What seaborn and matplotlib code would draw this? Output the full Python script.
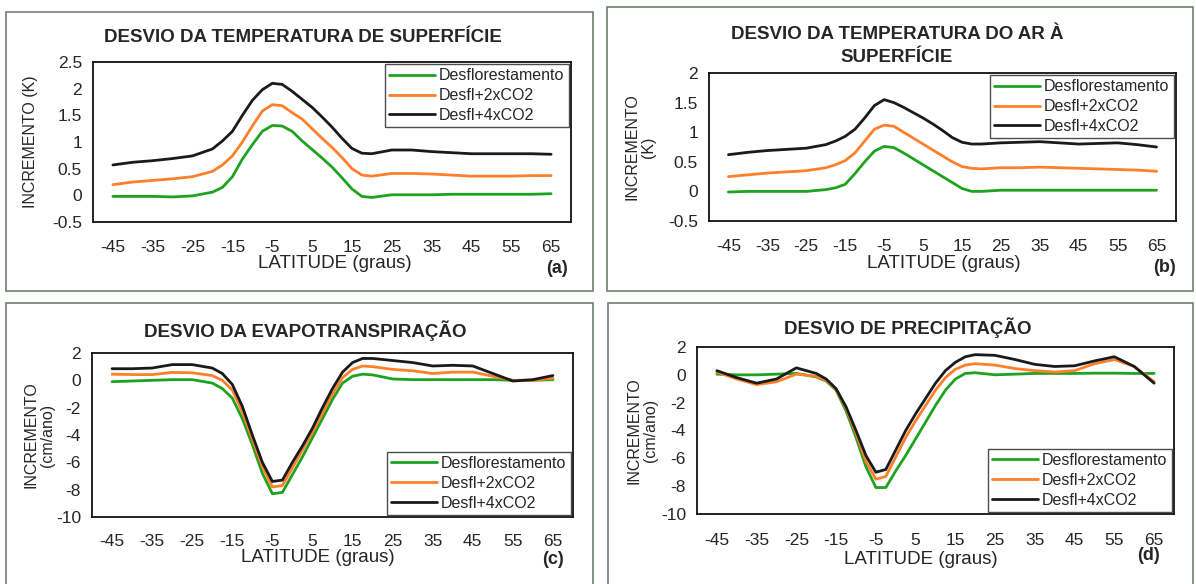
import matplotlib
matplotlib.use("Agg")
import matplotlib.pyplot as plt
from matplotlib.patches import Rectangle
import pandas as pd
import seaborn as sns

# latitudes (graus): de 5 em 5 nas pontas, de 2.5 em 2.5 na faixa tropical
lat = [-45, -40, -35, -30, -25, -20, -17.5, -15, -12.5, -10, -7.5, -5, -2.5, 0,
       2.5, 5, 7.5, 10, 12.5, 15, 17.5, 20, 25, 30, 35, 40, 45, 50, 55, 60, 65]
series = ["Desflorestamento", "Desfl+2xCO2", "Desfl+4xCO2"]
tick_labels = ["-45", "-35", "-25", "-15", "-5", "5", "15", "25", "35", "45", "55", "65"]

# (a) temperatura de superficie (K)
tsup_desf = [-0.02, -0.02, -0.02, -0.03, -0.01, 0.06, 0.15, 0.35, 0.68, 0.95, 1.2, 1.31, 1.3, 1.2,
             1.02, 0.86, 0.7, 0.53, 0.33, 0.12, -0.02, -0.04, 0.01, 0.01, 0.01, 0.02, 0.02, 0.02,
             0.02, 0.02, 0.03]
tsup_2co2 = [0.2, 0.25, 0.28, 0.31, 0.35, 0.45, 0.57, 0.74, 1.0, 1.3, 1.58, 1.7, 1.68, 1.55,
             1.43, 1.25, 1.07, 0.9, 0.71, 0.5, 0.38, 0.36, 0.41, 0.41, 0.4, 0.38, 0.36, 0.36,
             0.36, 0.37, 0.37]
tsup_4co2 = [0.57, 0.62, 0.65, 0.69, 0.74, 0.87, 1.02, 1.2, 1.5, 1.78, 1.98, 2.1, 2.08, 1.95,
             1.8, 1.65, 1.47, 1.28, 1.07, 0.88, 0.79, 0.78, 0.85, 0.85, 0.82, 0.8, 0.78, 0.78,
             0.78, 0.78, 0.77]

# (b) temperatura do ar a superficie (K)
tar_desf = [-0.01, 0.0, 0.0, 0.0, 0.0, 0.03, 0.06, 0.12, 0.3, 0.5, 0.68, 0.76, 0.74, 0.65,
            0.55, 0.45, 0.35, 0.25, 0.15, 0.05, 0.0, 0.0, 0.02, 0.02, 0.02, 0.02, 0.02, 0.02,
            0.02, 0.02, 0.02]
tar_2co2 = [0.25, 0.28, 0.31, 0.33, 0.35, 0.4, 0.45, 0.52, 0.65, 0.85, 1.05, 1.12, 1.1, 1.0,
            0.9, 0.8, 0.7, 0.6, 0.5, 0.42, 0.39, 0.38, 0.4, 0.4, 0.41, 0.4, 0.39, 0.38,
            0.37, 0.36, 0.34]
tar_4co2 = [0.62, 0.66, 0.69, 0.71, 0.73, 0.79, 0.85, 0.93, 1.05, 1.24, 1.45, 1.55, 1.5, 1.42,
            1.33, 1.24, 1.14, 1.03, 0.91, 0.83, 0.8, 0.8, 0.82, 0.83, 0.84, 0.82, 0.8, 0.81,
            0.82, 0.79, 0.75]

# (c) evapotranspiracao (cm/ano)
evt_desf = [-0.1, -0.05, 0.0, 0.05, 0.05, -0.2, -0.6, -1.3, -2.8, -4.7, -6.8, -8.3, -8.2, -6.9,
            -5.6, -4.2, -2.8, -1.4, -0.2, 0.3, 0.45, 0.4, 0.1, 0.05, 0.05, 0.05, 0.05, 0.05,
            0.0, 0.0, 0.05]
evt_2co2 = [0.45, 0.42, 0.42, 0.58, 0.55, 0.35, 0.0, -0.7, -2.3, -4.3, -6.3, -7.8, -7.7, -6.4,
            -5.1, -3.8, -2.4, -1.0, 0.2, 0.8, 1.05, 1.0, 0.8, 0.7, 0.5, 0.6, 0.6, 0.3,
            0.0, 0.0, 0.15]
evt_4co2 = [0.85, 0.85, 0.9, 1.15, 1.15, 0.9, 0.5, -0.3, -1.9, -4.0, -6.0, -7.4, -7.3, -6.0,
            -4.8, -3.5, -2.0, -0.6, 0.6, 1.3, 1.6, 1.6, 1.45, 1.3, 1.05, 1.1, 1.05, 0.5,
            -0.05, 0.05, 0.35]

# (d) precipitacao (cm/ano)
prc_desf = [0.05, 0.0, 0.0, 0.05, 0.1, -0.15, -0.45, -1.1, -2.6, -4.5, -6.6, -8.1, -8.1, -6.9,
            -5.8, -4.6, -3.4, -2.2, -1.1, -0.3, 0.1, 0.15, 0.0, 0.05, 0.1, 0.1, 0.1, 0.12,
            0.12, 0.1, 0.1]
prc_2co2 = [0.2, -0.3, -0.7, -0.5, 0.05, -0.1, -0.4, -1.05, -2.4, -4.2, -6.2, -7.5, -7.3, -5.9,
            -4.5, -3.3, -2.2, -1.1, -0.2, 0.4, 0.7, 0.8, 0.7, 0.45, 0.3, 0.2, 0.3, 0.8,
            1.1, 0.6, -0.5]
prc_4co2 = [0.3, -0.2, -0.6, -0.3, 0.5, 0.1, -0.3, -1.0, -2.3, -4.0, -5.8, -7.0, -6.8, -5.4,
            -4.0, -2.8, -1.7, -0.6, 0.3, 0.9, 1.3, 1.45, 1.4, 1.1, 0.75, 0.6, 0.65, 1.0,
            1.3, 0.6, -0.6]

colors = {"Desflorestamento": "#1fa21f", "Desfl+2xCO2": "#ff7f2a", "Desfl+4xCO2": "#1a1a1a"}

W, H = 1196, 584


def fx(px):
    return px / W


def fy(py):
    return 1 - py / H


def panel(fig, box, data, title, title_xy, ylabel, ylabel_x, ylim, yticks,
          legend_loc, tag, tick_pad, xlabel_xy, tag_xy):
    left, top, right, bottom = box
    ax = fig.add_axes([fx(left), fy(bottom), fx(right - left), (bottom - top) / H])
    df = pd.DataFrame({
        "lat": lat * 3,
        "val": data[0] + data[1] + data[2],
        "serie": [s for s in series for _ in lat],
    })
    sns.lineplot(data=df, x="lat", y="val", hue="serie", hue_order=series,
                 palette=colors, linewidth=2.0, ax=ax)
    ax.set_xlim(-50, 70)
    ax.set_ylim(*ylim)
    # marcas nas divisas das categorias, rotulos no meio
    ax.set_xticks(range(-50, 71, 10))
    ax.set_xticklabels([])
    ax.set_xticks(range(-45, 66, 10), minor=True)
    ax.set_xticklabels(tick_labels, minor=True)
    ax.tick_params(axis="x", which="major", direction="out", length=5, width=1, color="#333333")
    ax.tick_params(axis="x", which="minor", length=0, pad=tick_pad, labelsize=12.5)
    ax.set_yticks(yticks)
    ax.set_yticklabels(["%g" % v for v in yticks])
    ax.tick_params(axis="y", direction="out", length=5, width=1, labelsize=12.5, pad=3,
                   color="#333333")
    ax.set_xlabel("")
    ax.set_ylabel("")
    for sp in ax.spines.values():
        sp.set_color("#111111")
        sp.set_linewidth(1.3)
    ax.grid(False)

    handles, labels = ax.get_legend_handles_labels()
    leg = ax.legend(handles, labels, loc=legend_loc, frameon=True, fancybox=False,
                    edgecolor="#222222", fontsize=11.5, handlelength=2.9, handletextpad=0.25,
                    labelspacing=0.3, borderpad=0.25, borderaxespad=0.15)
    leg.get_frame().set_linewidth(1.0)

    fig.text(fx(title_xy[0]), fy(title_xy[1]), title, ha="center", va="center",
             fontsize=13.5, fontweight="bold", linespacing=1.4)
    fig.text(fx(ylabel_x), fy(top + (bottom - top) / 2), ylabel, rotation=90,
             ha="center", va="center", fontsize=11.5, linespacing=1.1)
    fig.text(fx(xlabel_xy[0]), fy(xlabel_xy[1]), "LATITUDE (graus)", ha="center",
             va="center", fontsize=13.5)
    fig.text(fx(tag_xy[0]), fy(tag_xy[1]), tag, ha="center", va="center",
             fontsize=13, fontweight="bold")
    return ax


sns.set_theme(style="white")
plt.rcParams["font.family"] = ["Liberation Sans", "DejaVu Sans"]

fig = plt.figure(figsize=(W / 100, H / 100), dpi=100)

# molduras dos quatro paineis
for (x0, y0, x1, y1) in [(6, 12, 593, 291), (607, 7, 1193, 291),
                         (6, 303, 593, 590), (608, 303, 1193, 590)]:
    fig.add_artist(Rectangle((fx(x0), fy(y1)), fx(x1 - x0), (y1 - y0) / H,
                             transform=fig.transFigure, fill=False,
                             edgecolor="#6f7f6f", linewidth=1.2))

panel(fig, (93, 62, 571, 222), [tsup_desf, tsup_2co2, tsup_4co2],
      "DESVIO DA TEMPERATURA DE SUPERFÍCIE", (303, 37),
      "INCREMENTO (K)", 31, (-0.5, 2.5), [-0.5, 0, 0.5, 1, 1.5, 2, 2.5],
      "upper right", "(a)", 13, (335, 264), (557, 268))

panel(fig, (709, 73, 1176, 221), [tar_desf, tar_2co2, tar_4co2],
      "DESVIO DA TEMPERATURA DO AR À\nSUPERFÍCIE", (897, 46),
      "INCREMENTO\n(K)", 640, (-0.5, 2), [-0.5, 0, 0.5, 1, 1.5, 2],
      "upper right", "(b)", 13, (944, 264), (1164, 267))

panel(fig, (92, 353, 573, 517), [evt_desf, evt_2co2, evt_4co2],
      "DESVIO DA EVAPOTRANSPIRAÇÃO", (305, 331),
      "INCREMENTO\n(cm/ano)", 39, (-10, 2), [-10, -8, -6, -4, -2, 0, 2],
      "lower right", "(c)", 12, (318, 558), (553, 560))

panel(fig, (697, 347, 1174, 514), [prc_desf, prc_2co2, prc_4co2],
      "DESVIO DE PRECIPITAÇÃO", (908, 328),
      "INCREMENTO\n(cm/ano)", 642, (-10, 2), [-10, -8, -6, -4, -2, 0, 2],
      "lower right", "(d)", 14, (921, 560), (1149, 556))

fig.savefig("out.png", dpi=100)
